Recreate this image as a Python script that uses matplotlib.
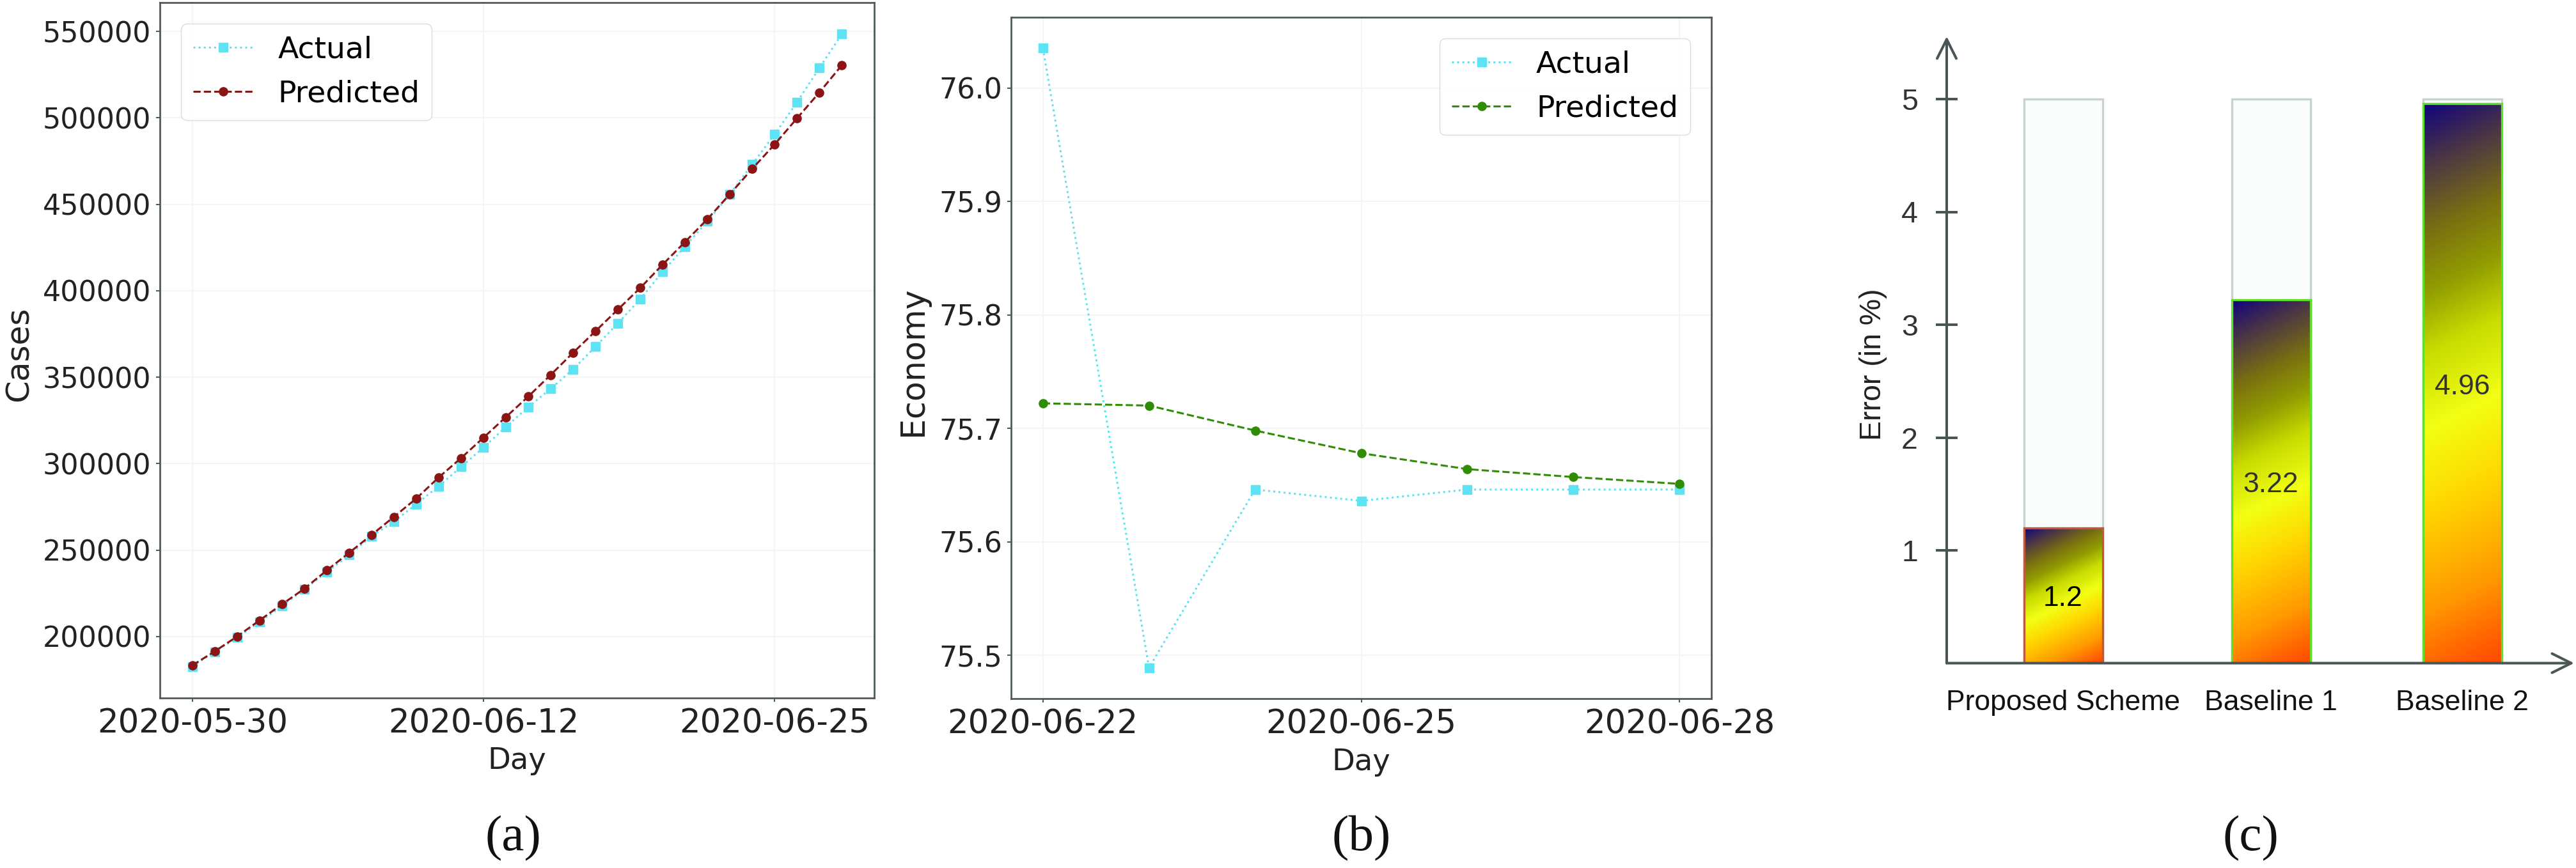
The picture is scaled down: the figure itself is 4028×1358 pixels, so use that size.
import numpy as np
import pandas as pd
import matplotlib
matplotlib.use("Agg")
import matplotlib.pyplot as plt
import matplotlib.dates as mdates
from matplotlib.colors import LinearSegmentedColormap
from matplotlib.patches import Rectangle

# ---------------- data ----------------
days_a = pd.date_range("2020-05-30", "2020-06-28", freq="D")
cases_actual = [182700, 191000, 199400, 208300, 217700, 227300, 237200, 247100,
                258000, 266400, 276600, 286900, 298100, 309300, 321200, 332700,
                343300, 354500, 367600, 381100, 395200, 410900, 425600, 440100,
                455800, 473100, 490400, 509000, 528800, 548400]
cases_pred = [183300, 191400, 200000, 209300, 218600, 227600, 238200, 248400,
              258700, 269200, 279800, 292000, 303200, 315000, 326900, 338800,
              351300, 364100, 376600, 389100, 401600, 415100, 428200, 441400,
              455800, 470500, 484600, 499700, 514700, 530400]

days_b = pd.date_range("2020-06-22", "2020-06-28", freq="D")
econ_actual = [76.035, 75.489, 75.646, 75.636, 75.646, 75.646, 75.646]
econ_pred = [75.722, 75.720, 75.698, 75.678, 75.664, 75.657, 75.651]

schemes = ["Proposed Scheme", "Baseline 1", "Baseline 2"]
errors = [1.2, 3.22, 4.96]
err_labels = ["1.2", "3.22", "4.96"]
err_max = 5

# ---------------- figure ----------------
W, H = 4028, 1358
DPI = 100
fig = plt.figure(figsize=(W / DPI, H / DPI), dpi=DPI)
fig.patch.set_facecolor("white")


def px_axes(l, t, r, b):
    return fig.add_axes([l / W, 1 - b / H, (r - l) / W, (b - t) / H])


C_ACT = "#5ee3f5"
C_RED = "#8b1414"
C_GRN = "#2f8c05"
SPINE = "#4f5b5b"
TXT = "#222222"
FONT = "DejaVu Sans"


def style_line_axes(ax):
    for s in ax.spines.values():
        s.set_color(SPINE)
        s.set_linewidth(2.0)
    ax.grid(True, color="#f3f6f6", lw=1.5)
    ax.set_axisbelow(True)
    ax.tick_params(axis="x", labelsize=37, colors=TXT, color=SPINE, length=4, width=1.5, pad=7)
    ax.tick_params(axis="y", labelsize=32, colors=TXT, color=SPINE, length=4, width=1.5, pad=6)
    for lab in ax.get_xticklabels() + ax.get_yticklabels():
        lab.set_fontfamily(FONT)
    ax.xaxis.set_major_formatter(mdates.DateFormatter("%Y-%m-%d"))


leg_kw = dict(frameon=True, fancybox=True, edgecolor="0.85", framealpha=0.9,
              prop={"family": FONT, "size": 34}, borderaxespad=0.7)

# ---------------- panel (a) ----------------
ax1 = px_axes(250, 4, 1367, 1092)
ax1.plot(days_a, cases_actual, ls=":", color=C_ACT, lw=2.2, marker="s", ms=10, label="Actual")
ax1.plot(days_a, cases_pred, ls="--", color=C_RED, lw=2.2, marker="o", ms=9.5, label="Predicted")
ax1.set_xticks(days_a[::13])
ax1.set_yticks([200000, 250000, 300000, 350000, 400000, 450000, 500000, 550000])
style_line_axes(ax1)
ax1.set_xlabel("Day", fontsize=33.5, color=TXT, family=FONT)
ax1.set_ylabel("Cases", fontsize=36, color=TXT, family=FONT)
ax1.xaxis.set_label_coords(0.5, -0.07)
ax1.yaxis.set_label_coords(-0.176, 0.495)
ax1.legend(loc="upper left", **leg_kw)

# ---------------- panel (b) ----------------
ax2 = px_axes(1581, 27, 2676, 1093)
ax2.plot(days_b, econ_actual, ls=":", color=C_ACT, lw=2.2, marker="s", ms=10, label="Actual")
ax2.plot(days_b, econ_pred, ls="--", color=C_GRN, lw=2.2, marker="o", ms=9.5, label="Predicted")
ax2.set_xticks(days_b[::3])
ax2.set_yticks([75.5, 75.6, 75.7, 75.8, 75.9, 76.0])
ax2.yaxis.set_major_formatter(matplotlib.ticker.FormatStrFormatter("%.1f"))
style_line_axes(ax2)
ax2.set_xlabel("Day", fontsize=33.5, color=TXT, family=FONT)
ax2.set_ylabel("Economy", fontsize=36.5, color=TXT, family=FONT)
ax2.xaxis.set_label_coords(0.5, -0.072)
ax2.yaxis.set_label_coords(-0.117, 0.495)
ax2.legend(loc="upper right", **leg_kw)

# ---------------- panel (c) ----------------
CF = "Liberation Sans"
AX_C = "#4a5555"
x0, y0, x1, y1 = 3044, 57, 4025, 1037.5
ax3 = px_axes(x0, y0, x1, y1)
ax3.set_xlim(0, (x1 - x0) / 100.0)
ytop = (y1 - y0) / 176.5
ax3.set_ylim(0, ytop)
ax3.set_facecolor("none")
for s in ax3.spines.values():
    s.set_visible(False)

bar_pos = [1.82, 5.07, 8.06]
bar_w = 1.23
edge_cols = ["#c2573f", "#5ee02a", "#5ee02a"]

grad_cmap = LinearSegmentedColormap.from_list("grad", [
    (0.00, "#10047e"), (0.10, "#4a3446"), (0.22, "#7a7010"), (0.32, "#929e00"),
    (0.42, "#c8dc00"), (0.55, "#f2ff14"), (0.68, "#ffd800"), (0.85, "#ff9a00"),
    (1.00, "#ff4800")])

# background (max) bars
ax3.bar(bar_pos, [err_max] * 3, width=bar_w, color="#fbfdfd", edgecolor="#c8d2d2",
        linewidth=2.4, zorder=1)

d = np.array([0.44, 0.9])
d = d / np.linalg.norm(d)
bars = ax3.bar(bar_pos, errors, width=bar_w, color="none", edgecolor=edge_cols,
               linewidth=2.4, zorder=4)
for rect, v in zip(bars, errors):
    xl, xr = rect.get_x(), rect.get_x() + rect.get_width()
    (pxl, pyb), (pxr, pyt) = ax3.transData.transform([(xl, 0), (xr, v)])
    wpx, hpx = pxr - pxl, pyt - pyb
    nx, ny = 60, max(int(hpx / 2), 20)
    gx = np.linspace(0, wpx, nx)[None, :]
    gy = np.linspace(0, hpx, ny)[:, None]  # from top downward
    t = (gx * d[0] + gy * d[1]) / (wpx * d[0] + hpx * d[1])
    im = ax3.imshow(t, extent=[xl, xr, 0, v], origin="upper", cmap=grad_cmap,
                    vmin=0, vmax=1, aspect="auto", zorder=3, interpolation="bilinear")
    clip = Rectangle((xl, 0), xr - xl, v, transform=ax3.transData)
    im.set_clip_path(clip)

ax3.set_xlim(0, (x1 - x0) / 100.0)
ax3.set_ylim(0, ytop)

val_cols = ["#000000", "#333333", "#333333"]
for p, v, lab, c in zip(bar_pos, errors, err_labels, val_cols):
    ax3.text(p, v / 2 - 0.03, lab, ha="center", va="center", fontsize=32,
             family=CF, color=c, zorder=6)

# arrows for axes
arrow_kw = dict(arrowstyle="->", mutation_scale=54, lw=2.9, color=AX_C,
                shrinkA=0, shrinkB=0)
ax3.annotate("", xy=(0, ytop), xytext=(0, 0), arrowprops=arrow_kw,
             annotation_clip=False, zorder=7)
ax3.annotate("", xy=(ax3.get_xlim()[1], 0), xytext=(0, 0), arrowprops=arrow_kw,
             annotation_clip=False, zorder=7)

ax3.set_yticks([1, 2, 3, 4, 5])
ax3.tick_params(axis="y", direction="inout", length=25, width=2.9, color=AX_C,
                labelsize=33.5, labelcolor="#333333", pad=20)
for lab in ax3.get_yticklabels():
    lab.set_fontfamily(CF)
ax3.set_xticks(bar_pos)
ax3.set_xticklabels(schemes, fontsize=32, family=CF, color="#111111")
ax3.tick_params(axis="x", length=0, pad=30)
ax3.set_ylabel("Error (in %)", fontsize=33.5, family=CF, color="#222222")
ax3.yaxis.set_label_coords(-0.095, (1037.5 - 570) / (y1 - y0))

# ---------------- sub-captions ----------------
for xc, s in [(802, "(a)"), (2129, "(b)"), (3519, "(c)")]:
    fig.text(xc / W, 1 - 1312 / H, s, ha="center", va="center", fontsize=57,
             family="Liberation Serif", color="#111111")

fig.savefig("out.png", dpi=DPI, facecolor="white")
